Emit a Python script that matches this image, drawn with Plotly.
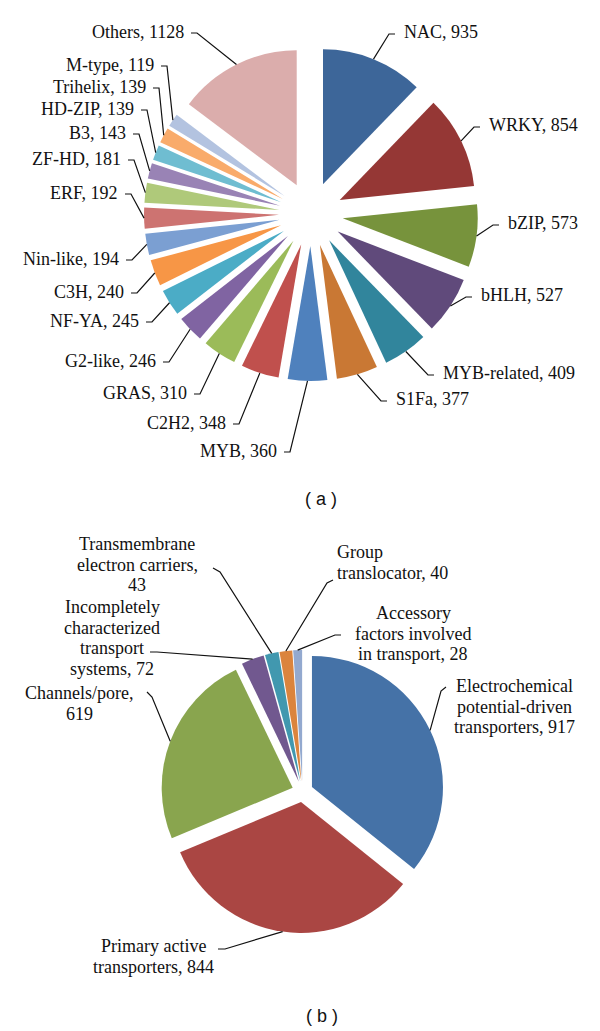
import math
import plotly.graph_objects as go

PAGE_W, PAGE_H = 600, 1031
OFF = 8                      # default page margin around the plot div
W, H = PAGE_W - OFF, PAGE_H - OFF

# ---------------- data ----------------
# (a) transcription factor families
tf_families = ["NAC", "WRKY", "bZIP", "bHLH", "MYB-related", "S1Fa", "MYB", "C2H2",
               "GRAS", "G2-like", "NF-YA", "C3H", "Nin-like", "ERF", "ZF-HD", "B3",
               "HD-ZIP", "Trihelix", "M-type", "Others"]
tf_counts = [935, 854, 573, 527, 409, 377, 360, 348, 310, 246, 245, 240, 194, 192,
             181, 143, 139, 139, 119, 1128]

# (b) transporter classes
tr_classes = ["Electrochemical potential-driven transporters", "Primary active transporters",
              "Channels/pore", "Incompletely characterized transport systems",
              "Transmembrane electron carriers", "Group translocator",
              "Accessory factors involved in transport"]
tr_counts = [917, 844, 619, 72, 43, 40, 28]
tr_label_lines = [["Electrochemical", "potential-driven", "transporters, {}"],
                  ["Primary active", "transporters, {}"],
                  ["Channels/pore,", "{}"],
                  ["Incompletely", "characterized", "transport", "systems, {}"],
                  ["Transmembrane", "electron carriers,", "{}"],
                  ["Group", "translocator, {}"],
                  ["Accessory", "factors involved", "in transport, {}"]]

# ---------------- styles ----------------
tf_colors = ["#3D6699", "#953735", "#77933C", "#604A7B", "#31859C", "#C97834",
             "#4F81BD", "#C0504D", "#9BBB59", "#8064A2", "#4BACC6", "#F79646",
             "#7B9FD2", "#CD7371", "#AFC97A", "#9983B5", "#6FBDD1", "#F9AB6B",
             "#B3C3E0", "#DBADAC"]
tr_colors = ["#4572A7", "#AA4643", "#89A54E", "#71588F", "#4198AF", "#DB843D", "#93A9CF"]

SERIF = "Liberation Serif, Times New Roman, serif"
SANS = "Liberation Sans, Arial, sans-serif"
FS = 18
LINE_C = "#111111"

# pie placement (page pixel centre, outer half-size incl. pull)
A_CX, A_CY, A_HALF, A_PULL = 311, 214, 167, 0.237
B_CX, B_CY, B_HALF, B_PULL = 302.5, 791.5, 141.5, 0.08

# label placement for (a): side, text anchor x (px), text centre y (px)
tf_label_pos = [("R", 403, 32), ("R", 488, 125), ("R", 507, 223), ("R", 480, 295),
                ("R", 442, 373), ("R", 395, 399), ("L", 278, 451), ("L", 227, 423),
                ("L", 188, 393), ("L", 157, 361), ("L", 140, 321), ("L", 125, 292),
                ("L", 120, 259), ("L", 119, 193), ("L", 122, 159), ("L", 127, 133),
                ("L", 135, 109), ("L", 147, 87), ("L", 155, 65), ("L", 185, 32)]

# label placement for (b): align, anchor x, first-line y, elbow, stub end
tr_label_pos = [("center", 514, 686, (441, 691), (446, 687)),
                ("center", 153, 946, (225, 949), (218, 949)),
                ("center", 79, 693, (152, 697), (147, 692)),
                ("center", 112, 607, (157, 652), (150, 652)),
                ("center", 137, 544, (220, 572), (213, 568)),
                ("left", 336, 552, (327, 583), (333, 580)),
                ("center", 413, 613, (335, 635), (341, 635))]
B_LINE_SP = 20.5


def px(x):
    return (x - OFF) / W


def py(y):
    return 1 - (y - OFF) / H


def domain(cx, cy, half):
    return dict(x=[px(cx - half), px(cx + half)], y=[py(cy + half), py(cy - half)])


def mid_angles(vals):
    tot = float(sum(vals))
    out, c = [], 0.0
    for v in vals:
        out.append((c + v / 2) / tot * 2 * math.pi)
        c += v
    return out


def arc_point(cx, cy, rad, th):
    return cx + rad * math.sin(th), cy - rad * math.cos(th)


fig = go.Figure()
fig.add_trace(go.Pie(labels=tf_families, values=tf_counts, sort=False, direction="clockwise",
                     rotation=0, pull=[A_PULL] * len(tf_counts), textinfo="none",
                     marker=dict(colors=tf_colors, line=dict(width=0)),
                     domain=domain(A_CX, A_CY, A_HALF), showlegend=False, hoverinfo="label+value"))
fig.add_trace(go.Pie(labels=tr_classes, values=tr_counts, sort=False, direction="clockwise",
                     rotation=0, pull=[B_PULL] * len(tr_counts), textinfo="none",
                     marker=dict(colors=tr_colors, line=dict(width=0)),
                     domain=domain(B_CX, B_CY, B_HALF), showlegend=False, hoverinfo="label+value"))

shapes, annos = [], []


def leader(pts):
    d = "M " + " L ".join(f"{px(x):.5f},{py(y):.5f}" for x, y in pts)
    shapes.append(dict(type="path", path=d, xref="paper", yref="paper",
                       line=dict(color=LINE_C, width=1.2)))


# (a) labels + leader lines
for name, val, th, (side, tx, ty) in zip(tf_families, tf_counts, mid_angles(tf_counts), tf_label_pos):
    ax, ay = arc_point(A_CX, A_CY, A_HALF, th)
    if side == "L":
        end = (tx + 6, ty + 1)
        elb = (tx + 12, ty + 1)
        xa = "right"
    else:
        end = (tx - 8, ty + 2)
        elb = (tx - 14, ty + 2)
        xa = "left"
    leader([(ax, ay), elb, end])
    annos.append(dict(x=px(tx), y=py(ty), xref="paper", yref="paper", xanchor=xa,
                      yanchor="middle", text=f"{name}, {val}", showarrow=False,
                      font=dict(family=SERIF, size=FS, color="#111111"), borderpad=0))

# (b) labels + leader lines
for val, th, lines, (al, tx, ty, elb, end) in zip(tr_counts, mid_angles(tr_counts),
                                                   tr_label_lines, tr_label_pos):
    ax, ay = arc_point(B_CX, B_CY, B_HALF, th)
    leader([(ax, ay), elb, end])
    for i, ln in enumerate(lines):
        annos.append(dict(x=px(tx), y=py(ty + i * B_LINE_SP), xref="paper", yref="paper",
                          xanchor=al, yanchor="middle", text=ln.format(val), showarrow=False,
                          font=dict(family=SERIF, size=FS, color="#111111"), borderpad=0))

# panel captions
for t, x, y in [("( a )", 321, 499), ("( b )", 322, 1016)]:
    annos.append(dict(x=px(x), y=py(y), xref="paper", yref="paper", xanchor="center",
                      yanchor="middle", text=t, showarrow=False,
                      font=dict(family=SANS, size=18, color="#111111")))

fig.update_layout(width=W, height=H, margin=dict(l=0, r=0, t=0, b=0),
                  paper_bgcolor="white", plot_bgcolor="white",
                  shapes=shapes, annotations=annos)

fig.write_html("out.html")
